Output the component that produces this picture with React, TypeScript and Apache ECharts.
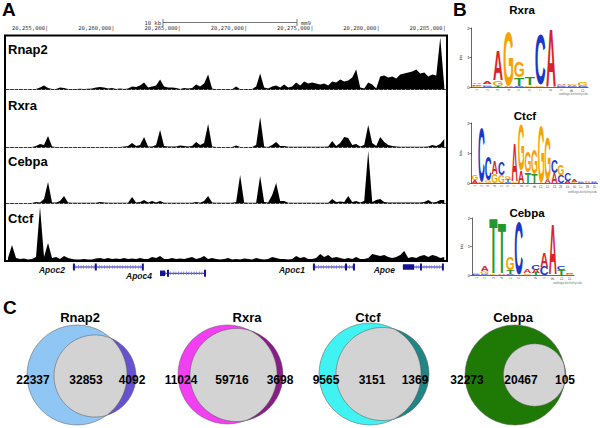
import React, { useEffect, useRef } from "react";
import * as echarts from "echarts";

// ---------------- Panel A : genome browser ----------------
const REGION_START = 20251800;
const REGION_END = 20285000;
const BIN_SIZE = 302; // bp per signal bin

const rulerTicks = [20255000, 20260000, 20265000, 20270000, 20275000, 20280000, 20285000];
const trackNames = ["Rnap2", "Rxra", "Cebpa", "Ctcf"];

const rnap2Signal = [
  0, 0, 0, 0, 0, 0, 0, 0.5, 2, 4,
  1.5, 0.5, 0.5, 2, 1.5, 0.5, 0.5, 0.5, 0.7, 0.5,
  0.8, 1, 2, 2.5, 2, 1, 1.5, 0.5, 1, 0.5,
  1, 3, 2.5, 4, 7, 2, 3, 4, 10, 3,
  2, 2, 1.5, 0.5, 1.5, 1, 1.5, 5, 3, 6,
  15, 1, 0.3, 0.3, 0.3, 0.3, 0.3, 3, 0.3, 0.3,
  0.5, 0.5, 3, 16, 2, 1, 3, 4, 2, 5,
  2, 3, 7, 4, 8, 6, 7, 6, 5, 6,
  4, 8, 7, 10, 8, 9, 12, 20, 2, 1,
  7, 5, 1, 13, 14, 12, 13, 11, 15, 16,
  17, 18, 20, 16, 17, 13, 15, 14, 52, 3,
];
const rxraSignal = [
  0, 0, 0, 0, 0, 0, 0, 1, 3, 2,
  11, 0.5, 0, 0, 0, 0, 0, 0, 0, 0,
  0, 0, 0, 0, 0, 0, 0, 0, 0, 0.5,
  1, 4, 1, 2, 10, 0.5, 0.5, 2, 17, 1,
  0.5, 0.5, 0.5, 1.5, 1, 0.5, 1, 5, 2, 4,
  23, 0.5, 0, 0, 0, 0, 0, 1.5, 0, 0,
  0, 0, 2, 30, 0.5, 0, 2, 5, 1, 1,
  0.3, 0.3, 0.3, 0.3, 0.3, 0.3, 0.3, 0.3, 0.3, 0.3,
  0.5, 6, 1, 4, 10, 9, 2, 3, 0.5, 2,
  22, 4, 1, 10, 5, 2, 1, 0.5, 0.3, 0.3,
  0.3, 0.3, 0.3, 0.3, 0.3, 0.5, 2, 1, 3, 8,
];
const cebpaSignal = [
  0, 0, 0, 0, 0, 0, 0, 1, 0.5, 4,
  21, 0.5, 0.5, 2, 7, 0.5, 0.3, 0.3, 0.3, 0.3,
  0.3, 0.3, 0.3, 1, 0.5, 0.3, 0.3, 0.3, 0.3, 0.3,
  0.3, 6, 0.5, 1, 3, 0.5, 2, 0.5, 2, 0.3,
  0.3, 0.3, 0.3, 0.3, 0.3, 0.3, 0.3, 1, 0.3, 2,
  7, 0.5, 0.3, 0.3, 0.3, 0.3, 0.3, 1, 28, 0.5,
  0.3, 0.3, 0.3, 27, 1, 0.5, 8, 20, 2, 2,
  0.3, 0.3, 0.3, 0.3, 0.3, 0.3, 0.3, 0.3, 0.3, 0.3,
  0.3, 4, 1, 1.5, 1, 7, 1, 2, 0.5, 2,
  52, 1, 3, 4, 1, 0.4, 0.4, 0.4, 0.4, 0.4,
  0.4, 0.4, 0.4, 0.4, 1, 3, 0.5, 1, 3, 3,
];
const ctcfSignal = [
  2, 15, 2, 1, 1.5, 0.5, 1, 3, 53, 3,
  17, 2, 3, 1, 4, 2, 1, 0.5, 0.5, 1,
  0.5, 0.5, 1.5, 2, 1, 2, 1, 1.5, 1, 2,
  1, 1.5, 1, 2, 1, 1, 3, 2, 4, 1,
  1, 2, 1, 1.5, 1, 2, 3, 1, 2, 4,
  1, 2, 1, 0.5, 1, 2, 0.5, 1, 0.5, 1.5,
  1, 0.5, 2, 1, 0.5, 1, 3, 2, 1, 1,
  0.5, 1, 4, 2, 3, 1, 1, 2, 6, 3,
  5, 2, 3, 2, 1, 2, 1, 3, 1, 1,
  2, 6, 5, 4, 5, 3, 2, 3, 5, 9,
  2, 3, 2, 4, 5, 3, 5, 4, 2, 3,
];
const trackSignals = [rnap2Signal, rxraSignal, cebpaSignal, ctcfSignal];

const geneNames = ["Apoc2", "Apoc4", "Apoc1", "Apoe"];
const geneStarts = [20256850, 20263420, 20274960, 20281750];
const geneEnds = [20262130, 20266820, 20278060, 20284770];
const geneRows = [5, 11.3, 5, 5];
const geneExons = [
  [[20256850, 20257000], [20258500, 20258650], [20262050, 20262130]],
  [[20263420, 20263800], [20263950, 20264060], [20266740, 20266820]],
  [[20274960, 20275060], [20277380, 20277530], [20277980, 20278060]],
  [[20281750, 20282600], [20283040, 20283130], [20284690, 20284770]],
];

// ---------------- Panel B : sequence logos ----------------
const LETTERS = ["A", "C", "G", "T"];
const logoTitles = ["Rxra", "Ctcf", "Cebpa"];
// each column: [letterIndex, bits] from bottom to top (A=0, C=1, G=2, T=3)
const rxraLogo = [
  [[2, 0.04], [1, 0.05], [0, 0.06]],
  [[1, 0.04], [2, 0.06], [0, 0.1]],
  [[3, 0.03], [2, 0.18], [0, 1.05]],
  [[0, 0.06], [2, 1.83]],
  [[1, 0.04], [3, 0.28], [2, 0.52]],
  [[2, 0.06], [3, 0.25]],
  [[2, 0.05], [1, 1.72]],
  [[0, 1.98]],
  [[1, 0.03], [2, 0.04], [0, 0.05]],
  [[1, 0.04], [0, 0.04], [2, 0.05]],
  [[1, 0.04], [2, 0.14]],
];
const ctcfLogo = [
  [[0, 0.1], [2, 0.18]],
  [[2, 0.05], [1, 1.8]],
  [[2, 0.08], [1, 0.8]],
  [[2, 0.3], [0, 0.42]],
  [[2, 0.28], [1, 0.42]],
  [[1, 0.04], [3, 0.08], [2, 0.1]],
  [[2, 0.05], [0, 1.28]],
  [[0, 0.4], [2, 1.55]],
  [[3, 0.35], [2, 0.7]],
  [[3, 0.3], [2, 0.85]],
  [[2, 1.9]],
  [[0, 0.12], [2, 1.42]],
  [[0, 0.35], [1, 0.45]],
  [[1, 0.25], [2, 0.35]],
  [[0, 0.08], [1, 0.25]],
  [[2, 0.05], [0, 0.07]],
  [[1, 0.05], [2, 0.06]],
  [[0, 0.04], [2, 0.05]],
  [[1, 0.03], [0, 0.04]],
];
const cebpaLogo = [
  [[1, 0.03], [2, 0.04]],
  [[1, 0.04], [2, 0.1], [0, 0.18]],
  [[2, 0.03], [3, 1.95]],
  [[0, 0.03], [3, 1.75]],
  [[1, 0.04], [3, 0.15], [2, 0.45]],
  [[1, 1.85]],
  [[2, 0.06], [0, 0.14]],
  [[3, 0.07], [0, 0.12], [1, 0.17]],
  [[1, 0.3], [0, 0.5]],
  [[0, 1.75]],
  [[3, 0.18], [1, 0.15]],
  [[2, 0.03], [1, 0.04]],
];
const logos = [rxraLogo, ctcfLogo, cebpaLogo];

// ---------------- Panel C : Venn diagrams ----------------
const vennTitles = ["Rnap2", "Rxra", "Ctcf", "Cebpa"];
const vennOnlyFirst = [22337, 11024, 9565, 32273];
const vennShared = [32853, 59716, 3151, 20467];
const vennOnlySecond = [4092, 3698, 1369, 105];

// ---------------- layout & style (not data) ----------------
const trackLayout = [
  { top: 37, height: 52.5, labelY: 49 },
  { top: 93, height: 54, labelY: 105.5 },
  { top: 149, height: 54, labelY: 161 },
  { top: 205, height: 55, labelY: 218.5 },
];
const logoLayout = [
  { left: 471.5, width: 116.5, top: 28, height: 59, titleX: 522, titleY: 10, capX: 588, capY: 94 },
  { left: 471.5, width: 126, top: 123, height: 60, titleX: 525, titleY: 116, capX: 597, capY: 192 },
  { left: 472, width: 102, top: 218, height: 57, titleX: 527, titleY: 213, capX: 582, capY: 283 },
];
const LETTER_COLORS = ["#d8232a", "#1838c8", "#f5a300", "#24962a"];
const LETTER_INK = [0.7, 0.64, 0.69, 0.58];
// circle geometry [cx, cy, r] for first set and second set; grey = their intersection
const vennLayout = [
  { titleX: 80, first: [77, 375, 50], second: [95, 376, 41], labels: [33, 86, 132] },
  { titleX: 247, first: [227.5, 374.5, 49.5], second: [236.5, 375, 46.5], labels: [181, 232, 280] },
  { titleX: 368, first: [370, 374, 51], second: [382.5, 374, 46.5], labels: [326, 372, 415] },
  { titleX: 513, first: [515, 375, 50], second: [534.6, 375, 31.2], labels: [467, 521, 565] },
];
const vennFirstColors = ["#8fc6f4", "#f23ff2", "#40f2f2", "#1f7a05"];
const vennSecondColors = ["#6652d0", "#8a1c8a", "#1f8585", "#5a8a1a"];
const FONT = "Liberation Sans, Arial, sans-serif";

function lensPoints(a: number[], b: number[]) {
  const pts: number[][] = [];
  const N = 180;
  const inside = (p: number[], c: number[]) => Math.hypot(p[0] - c[0], p[1] - c[1]) <= c[2] + 0.01;
  for (let k = 0; k < N; k++) {
    const t = (k / N) * Math.PI * 2;
    const pa = [a[0] + a[2] * Math.cos(t), a[1] + a[2] * Math.sin(t)];
    if (inside(pa, b)) pts.push(pa);
    const pb = [b[0] + b[2] * Math.cos(t), b[1] + b[2] * Math.sin(t)];
    if (inside(pb, a)) pts.push(pb);
  }
  const cx = pts.reduce((s, p) => s + p[0], 0) / pts.length;
  const cy = pts.reduce((s, p) => s + p[1], 0) / pts.length;
  pts.sort((p, q) => Math.atan2(p[1] - cy, p[0] - cx) - Math.atan2(q[1] - cy, q[0] - cx));
  return pts;
}

function buildOption() {
  const grid: any[] = [];
  const xAxis: any[] = [];
  const yAxis: any[] = [];
  const series: any[] = [];
  const graphic: any[] = [];

  // track grids 0..3
  trackLayout.forEach((t, i) => {
    grid.push({ left: 6, width: 440, top: t.top, height: t.height });
    xAxis.push({
      gridIndex: i, type: "value", min: REGION_START, max: REGION_END,
      axisLine: { show: true, lineStyle: { color: "#000", width: 0.8, type: [3, 1.5] } },
      axisTick: { show: false }, axisLabel: { show: false }, splitLine: { show: false },
    });
    yAxis.push({ gridIndex: i, type: "value", min: 0, max: t.height, show: false, splitLine: { show: false } });
    series.push({
      type: "line", xAxisIndex: i, yAxisIndex: i, silent: true, symbol: "none",
      data: trackSignals[i].map((v, j) => [REGION_START + BIN_SIZE * (j + 0.5), v]),
      lineStyle: { width: 0, color: "#000" },
      areaStyle: { color: "#000", opacity: 1 },
    });
    graphic.push({
      type: "text", x: 8, y: t.labelY, z: 100,
      style: { text: trackNames[i], fontSize: 13, fontWeight: "bold", fontFamily: FONT, fill: "#000", align: "left", verticalAlign: "middle" },
    });
  });
  // ruler axis (xAxis 4) on grid 0
  xAxis.push({
    gridIndex: 0, type: "value", position: "top", min: REGION_START, max: REGION_END,
    axisLine: { show: false }, axisTick: { show: false }, splitLine: { show: false },
    axisLabel: {
      customValues: rulerTicks, showMinLabel: true, showMaxLabel: true,
      formatter: (v: number) => Number(v).toLocaleString("en-US") + "|",
      align: "right", margin: 6, fontSize: 5.5, fontFamily: "DejaVu Sans Mono, monospace", color: "#333",
    },
  });
  // genes grid 4 (xAxis 5, yAxis 4)
  grid.push({ left: 6, width: 440, top: 262, height: 22 });
  xAxis.push({ gridIndex: 4, type: "value", min: REGION_START, max: REGION_END, show: false, splitLine: { show: false } });
  yAxis.push({ gridIndex: 4, type: "value", min: 0, max: 22, inverse: true, show: false, splitLine: { show: false } });
  series.push({
    type: "custom", xAxisIndex: 5, yAxisIndex: 4, silent: true,
    data: geneNames.map((_, i) => [geneStarts[i], geneRows[i], geneEnds[i], i]),
    encode: { x: [0, 2], y: 1 },
    renderItem: (_p: any, api: any) => {
      const gi = api.value(3);
      const row = geneRows[gi];
      const s = api.coord([geneStarts[gi], row]);
      const e = api.coord([geneEnds[gi], row]);
      const children: any[] = [
        { type: "line", shape: { x1: s[0], y1: s[1], x2: e[0], y2: e[1] }, style: { stroke: "#2a2aa8", lineWidth: 1 } },
        { type: "line", shape: { x1: s[0], y1: s[1], x2: e[0], y2: e[1] }, style: { stroke: "#6060d8", lineWidth: 3.5, lineDash: [0.6, 2] } },
      ];
      geneExons[gi].forEach(([a, b]) => {
        const pa = api.coord([a, row]);
        const pb = api.coord([b, row]);
        const w = Math.max(2, pb[0] - pa[0]);
        const h = w > 4 ? 5.5 : 7;
        children.push({ type: "rect", shape: { x: pa[0], y: pa[1] - h / 2, width: w, height: h }, style: { fill: "#141496" } });
      });
      children.push({
        type: "text", x: s[0] - 8, y: s[1] + 3,
        style: { text: geneNames[gi], align: "right", verticalAlign: "middle", fontSize: 8.5, fontStyle: "italic", fontWeight: "bold", fontFamily: FONT, fill: "#111" },
      });
      return { type: "group", children };
    },
  });

  // logos: grids 5..7, xAxis 6..8, yAxis 5..7
  logos.forEach((logo, k) => {
    const L = logoLayout[k];
    const gIdx = 5 + k;
    grid.push({ left: L.left, width: L.width, top: L.top, height: L.height });
    xAxis.push({
      gridIndex: gIdx, type: "category", data: logo.map((_, i) => String(i + 1)), boundaryGap: true,
      axisLine: { lineStyle: { color: "#000", width: 0.6 } },
      axisTick: { length: 1.5, alignWithLabel: true, lineStyle: { width: 0.5 } },
      axisLabel: { fontSize: 3, margin: 2, rotate: 90, color: "#444", interval: 0 },
      splitLine: { show: false },
    });
    yAxis.push({
      gridIndex: gIdx, type: "value", min: 0, max: 2, interval: 1,
      axisLine: { show: true, lineStyle: { color: "#000", width: 0.6 } },
      axisTick: { show: true, length: 2, lineStyle: { width: 0.5 } },
      axisLabel: { fontSize: 4, margin: 2, color: "#000" },
      splitLine: { show: false },
      name: "bits", nameLocation: "middle", nameGap: 6, nameRotate: 90, nameTextStyle: { fontSize: 3.5, color: "#000" },
    });
    const data: number[][] = [];
    logo.forEach((col, c) => {
      let base = 0;
      col.forEach(([li, h]) => {
        data.push([c, base, h, li]);
        base += h;
      });
    });
    series.push({
      type: "custom", xAxisIndex: 6 + k, yAxisIndex: 5 + k, silent: true, data,
      encode: { x: 0, y: 1 },
      renderItem: (_p: any, api: any) => {
        const c = api.value(0), base = api.value(1), h = api.value(2), li = api.value(3);
        const p0 = api.coord([c, base]);
        const p1 = api.coord([c, base + h]);
        const w = api.size([1, 0])[0];
        const ph = p0[1] - p1[1];
        const F = 100;
        return {
          type: "text", x: p0[0], y: (p0[1] + p1[1]) / 2,
          scaleX: (w * 0.92) / (LETTER_INK[li] * F), scaleY: ph / (0.716 * F),
          style: { text: LETTERS[li], fontSize: F, fontWeight: "bold", fontFamily: FONT, fill: LETTER_COLORS[li], align: "center", verticalAlign: "middle" },
        };
      },
    });
    graphic.push({
      type: "text", x: L.titleX, y: L.titleY, z: 100,
      style: { text: logoTitles[k], fontSize: 11.5, fontWeight: "bold", fontFamily: FONT, fill: "#000", align: "center", verticalAlign: "middle" },
    });
    graphic.push({
      type: "text", x: L.capX, y: L.capY, z: 100,
      style: { text: "weblogo.berkeley.edu", fontSize: 3, fontFamily: FONT, fill: "#777", align: "right", verticalAlign: "middle" },
    });
  });

  // panel letters
  [["A", 2, 9], ["B", 453, 9], ["C", 3, 307]].forEach(([t, x, y]) => {
    graphic.push({ type: "text", x, y, z: 100, style: { text: t, fontSize: 19, fontWeight: "bold", fontFamily: FONT, fill: "#000", align: "left", verticalAlign: "middle" } });
  });
  // track box
  graphic.push({ type: "rect", z: 100, shape: { x: 5, y: 35.5, width: 442, height: 225.5 }, style: { fill: "none", stroke: "#000", lineWidth: 2 } });
  // scale bar
  graphic.push({ type: "line", z: 100, shape: { x1: 163, y1: 22.5, x2: 297, y2: 22.5 }, style: { stroke: "#555", lineWidth: 0.8 } });
  graphic.push({ type: "line", z: 100, shape: { x1: 163, y1: 19, x2: 163, y2: 26 }, style: { stroke: "#555", lineWidth: 0.8 } });
  graphic.push({ type: "line", z: 100, shape: { x1: 297, y1: 19, x2: 297, y2: 26 }, style: { stroke: "#555", lineWidth: 0.8 } });
  graphic.push({ type: "text", z: 100, x: 161, y: 22.5, style: { text: "10 kb", fontSize: 5.5, fontFamily: "DejaVu Sans Mono, monospace", fill: "#333", align: "right", verticalAlign: "middle" } });
  graphic.push({ type: "text", z: 100, x: 301, y: 22.5, style: { text: "mm9", fontSize: 5.5, fontFamily: "DejaVu Sans Mono, monospace", fill: "#333", align: "left", verticalAlign: "middle" } });

  // Venn diagrams
  vennTitles.forEach((title, i) => {
    const V = vennLayout[i];
    const circ = (c: number[], fill: string) => ({
      type: "circle", shape: { cx: c[0], cy: c[1], r: c[2] },
      style: { fill, stroke: "#555", lineWidth: 0.5 },
    });
    graphic.push(circ(V.second, vennSecondColors[i]));
    graphic.push(circ(V.first, vennFirstColors[i]));
    graphic.push({
      type: "polygon", shape: { points: lensPoints(V.first, V.second) },
      style: { fill: "#d3d3d3", stroke: "#555", lineWidth: 0.5 },
    });
    graphic.push({ type: "text", x: V.titleX, y: 317, style: { text: title, fontSize: 13, fontWeight: "bold", fontFamily: FONT, fill: "#000", align: "center", verticalAlign: "middle" } });
    [vennOnlyFirst[i], vennShared[i], vennOnlySecond[i]].forEach((n, j) => {
      graphic.push({ type: "text", x: V.labels[j], y: 380, z: 10, style: { text: String(n), fontSize: 12, fontWeight: "bold", fontFamily: FONT, fill: "#000", align: "center", verticalAlign: "middle" } });
    });
  });

  return { animation: false, backgroundColor: "#fff", grid, xAxis, yAxis, series, graphic };
}

export default function App() {
  const ref = useRef<HTMLDivElement>(null);
  useEffect(() => {
    if (!ref.current) return;
    const chart = echarts.init(ref.current, undefined, { renderer: "svg" });
    chart.setOption(buildOption() as any);
    return () => chart.dispose();
  }, []);
  return <div ref={ref} style={{ position: "absolute", left: 0, top: 0, width: 600, height: 428 }} />;
}
